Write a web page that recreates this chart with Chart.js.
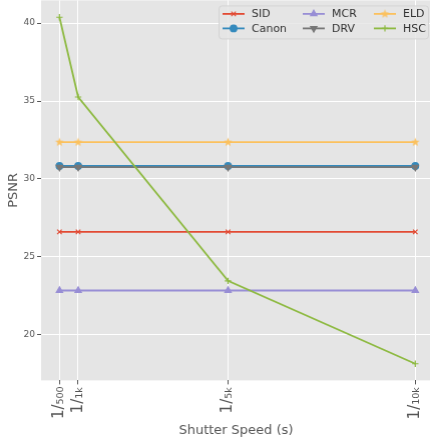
<!DOCTYPE html>
<html>
<head>
<meta charset="utf-8">
<script src="https://cdn.jsdelivr.net/npm/chart.js@4/dist/chart.umd.min.js"></script>
<style>
  html, body { margin: 0; padding: 0; background: #fff; overflow: hidden; }
  #wrap { position: relative; width: 430px; height: 444px; }
</style>
</head>
<body>
<div id="wrap"><canvas id="psnr-chart"></canvas></div>
<script>
// Data
const speeds = [500, 1000, 5000, 10000];
const speedLabels = ["1/₅₀₀", "1/₁ₖ", "1/₅ₖ", "1/₁₀ₖ"];
const psnrTicks = [20, 25, 30, 35, 40];

const sidPsnr = [26.6, 26.6, 26.6, 26.6];
const canonPsnr = [30.83, 30.83, 30.83, 30.83];
const mcrPsnr = [22.84, 22.84, 22.84, 22.84];
const drvPsnr = [30.76, 30.76, 30.76, 30.76];
const eldPsnr = [32.36, 32.36, 32.36, 32.36];
const hscPsnr = [40.38, 35.26, 23.46, 18.14];

// small filled star for ELD (matplotlib "*")
function makeStar(color, r) {
  const size = Math.ceil(r * 2 + 2);
  const c = document.createElement("canvas");
  c.width = size;
  c.height = size;
  const g = c.getContext("2d");
  const cx = size / 2, cy = size / 2;
  g.beginPath();
  for (let k = 0; k < 10; k++) {
    const rad = k % 2 === 0 ? r : r * 0.42;
    const a = -Math.PI / 2 + (k * Math.PI) / 5;
    const px = cx + rad * Math.cos(a);
    const py = cy + rad * Math.sin(a);
    if (k === 0) g.moveTo(px, py);
    else g.lineTo(px, py);
  }
  g.closePath();
  g.fillStyle = color;
  g.fill();
  return c;
}

function series(label, values, color, style, radius, rotation) {
  return {
    label,
    data: speeds.map((s, i) => ({ x: s, y: values[i] })),
    borderColor: color,
    backgroundColor: color,
    borderWidth: 1.8,
    pointStyle: style,
    pointRadius: radius,
    pointRotation: rotation || 0,
    pointBorderWidth: 1.2,
    tension: 0,
  };
}

const datasets = [
  series("SID", sidPsnr, "#E24A33", "crossRot", 3.2),
  series("Canon", canonPsnr, "#348ABD", "circle", 3.3),
  series("MCR", mcrPsnr, "#988ED5", "triangle", 3.6),
  series("DRV", drvPsnr, "#777777", "triangle", 3.6, 180),
  series("ELD", eldPsnr, "#FBC15E", makeStar("#FBC15E", 4.5), 4.5),
  series("HSC", hscPsnr, "#8EBA42", "cross", 3.2),
];
// later series drawn on top, like matplotlib
datasets.forEach((ds, i) => (ds.order = datasets.length - i));

// Plugins
const plotBackground = {
  id: "plotBackground",
  beforeDraw(chart) {
    const { ctx, chartArea } = chart;
    ctx.save();
    ctx.fillStyle = "#E5E5E5";
    ctx.fillRect(chartArea.left, chartArea.top, chartArea.width, chartArea.height);
    ctx.restore();
  },
};

const gridLegend = {
  id: "gridLegend",
  afterDraw(chart) {
    const ctx = chart.ctx;
    const area = chart.chartArea;
    const boxLeft = area.right - 212;
    const colX = [4, 84, 155].map((d) => boxLeft + d);
    const rowY = [13.5, 28].map((d) => area.top + d);
    ctx.save();
    ctx.beginPath();
    ctx.roundRect(boxLeft + 0.5, area.top + 5.5, 209, 33, 3);
    ctx.fillStyle = "rgba(229,229,229,0.8)";
    ctx.fill();
    ctx.strokeStyle = "#d4d4d4";
    ctx.lineWidth = 1;
    ctx.stroke();

    chart.data.datasets.forEach((ds, i) => {
      const x = colX[Math.floor(i / 2)];
      const y = rowY[i % 2];
      ctx.strokeStyle = ds.borderColor;
      ctx.fillStyle = ds.borderColor;
      ctx.lineWidth = 1.8;
      ctx.beginPath();
      ctx.moveTo(x, y);
      ctx.lineTo(x + 22, y);
      ctx.stroke();
      ctx.lineWidth = 1.2;
      Chart.helpers.drawPoint(
        ctx,
        {
          pointStyle: ds.pointStyle,
          rotation: ds.pointRotation,
          radius: ds.pointRadius,
          borderWidth: 1.2,
        },
        x + 11,
        y
      );
      ctx.fillStyle = "#333333";
      ctx.font = "11px 'DejaVu Sans'";
      ctx.textBaseline = "middle";
      ctx.textAlign = "left";
      ctx.fillText(ds.label, x + 29, y + 0.5);
    });
    ctx.restore();
  },
};

const wrap = document.getElementById("wrap");
const ctx = document.getElementById("psnr-chart").getContext("2d");

const chart = new Chart(ctx, {
  type: "line",
  data: { datasets },
  plugins: [plotBackground, gridLegend],
  options: {
    responsive: true,
    maintainAspectRatio: false,
    animation: false,
    layout: { padding: 0 },
    plugins: {
      legend: { display: false },
      tooltip: { enabled: false },
    },
    scales: {
      x: {
        type: "linear",
        min: 10,
        max: 10420,
        afterBuildTicks(scale) {
          scale.ticks = speeds.map((v) => ({ value: v }));
        },
        afterFit(scale) {
          scale.height = 64;
        },
        grid: {
          color: "#ffffff",
          lineWidth: 1,
          tickColor: "#555555",
          tickLength: 4,
        },
        border: { display: false },
        ticks: {
          autoSkip: false,
          minRotation: 90,
          maxRotation: 90,
          padding: 2,
          color: "#555555",
          font: { family: "'DejaVu Sans'", size: 15 },
          callback: (value) => speedLabels[speeds.indexOf(value)],
        },
        title: {
          display: true,
          text: "Shutter Speed (s)",
          color: "#555555",
          font: { family: "'DejaVu Sans'", size: 13 },
          padding: { top: 0, bottom: 6 },
        },
      },
      y: {
        min: 17.07,
        max: 41.46,
        afterBuildTicks(scale) {
          scale.ticks = psnrTicks.map((v) => ({ value: v }));
        },
        afterFit(scale) {
          scale.width = 41;
        },
        grid: {
          color: "#ffffff",
          lineWidth: 1,
          tickColor: "#555555",
          tickLength: 4,
        },
        border: { display: false },
        ticks: {
          padding: 2,
          color: "#555555",
          font: { family: "'DejaVu Sans'", size: 9 },
        },
        title: {
          display: true,
          text: "PSNR",
          color: "#555555",
          font: { family: "'DejaVu Sans'", size: 13 },
          padding: { top: 6, bottom: 0 },
        },
      },
    },
  },
});

// the axes reserve room for half a tick label at the top and right;
// grow the canvas and shift it so the plot area touches those edges
const padTop = chart.chartArea.top;
const padRight = chart.width - chart.chartArea.right;
wrap.style.width = 430 + padRight + "px";
wrap.style.height = 444 + padTop + "px";
wrap.style.marginTop = -padTop + "px";
chart.resize();
</script>
</body>
</html>
